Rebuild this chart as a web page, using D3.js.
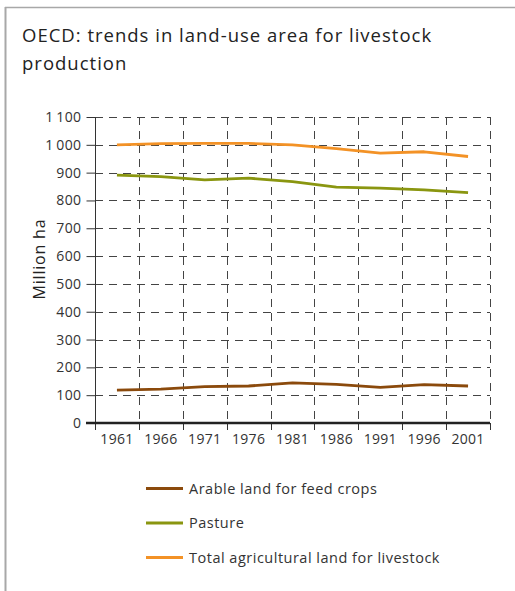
<!DOCTYPE html>
<html>
<head>
<meta charset="utf-8">
<script src="https://cdn.jsdelivr.net/npm/d3@7"></script>
<style>
  body { margin: 0; background: #fff; }
  svg { display: block; font-family: "Open Sans", sans-serif; }
</style>
</head>
<body>
<svg id="chart" width="515" height="591"></svg>
<script>

// years shown on the x axis
var years = ["1961", "1966", "1971", "1976", "1981", "1986", "1991", "1996", "2001"];

// million ha
var arable  = [118, 122, 131, 133, 144, 139, 128, 138, 133];
var pasture = [891, 886, 874, 880, 868, 848, 844, 838, 828];
var total   = [1000, 1004, 1005, 1005, 1000, 986, 970, 975, 958];

var yTicks = [0, 100, 200, 300, 400, 500, 600, 700, 800, 900, 1000, 1100];

var seriesNames  = ["Arable land for feed crops", "Pasture", "Total agricultural land for livestock"];
var seriesColors = ["#8b4a0c", "#8a9610", "#f39226"];
var seriesValues = [arable, pasture, total];

var FONT = "'Open Sans', sans-serif";
var svg = d3.select("#chart");

// outer frame (only left and top edges visible)
svg.append("line").attr("x1", 5.5).attr("x2", 5.5).attr("y1", 7).attr("y2", 591)
  .attr("stroke", "#a8a8a8").attr("stroke-width", 2);
svg.append("line").attr("x1", 5).attr("x2", 515).attr("y1", 7.5).attr("y2", 7.5)
  .attr("stroke", "#a8a8a8").attr("stroke-width", 1.5);

// title
svg.append("text").attr("x", 22).attr("y", 42)
  .attr("font-size", 18.5).attr("fill", "#222").attr("letter-spacing", 1)
  .text("OECD: trends in land-use area for livestock");
svg.append("text").attr("x", 22).attr("y", 70)
  .attr("font-size", 18.5).attr("fill", "#222").attr("letter-spacing", 1)
  .text("production");

var pLeft = 95, pRight = 490, pTop = 117, pBottom = 423;

var xScale = d3.scaleBand()
  .domain(years)
  .range([pLeft, pRight]);

var yScale = d3.scaleLinear()
  .domain([0, 1100])
  .range([pBottom, pTop]);

// horizontal dashed grid
svg.append("g").selectAll(".hgrid")
  .data(yTicks.filter(function(d){ return d > 0; }))
  .enter().append("line")
  .attr("class", "hgrid")
  .attr("x1", pLeft).attr("x2", pRight)
  .attr("y1", function(d){ return Math.round(yScale(d)) + 0.5; })
  .attr("y2", function(d){ return Math.round(yScale(d)) + 0.5; })
  .attr("stroke", "#444").attr("stroke-width", 1)
  .attr("stroke-dasharray", "8,6");

// vertical dashed grid at band edges
var edges = years.map(function(d){ return xScale(d) + xScale.bandwidth(); });
svg.append("g").selectAll(".vgrid")
  .data(edges)
  .enter().append("line")
  .attr("class", "vgrid")
  .attr("x1", function(d){ return Math.round(d) + 0.5; })
  .attr("x2", function(d){ return Math.round(d) + 0.5; })
  .attr("y1", pTop).attr("y2", pBottom)
  .attr("stroke", "#444").attr("stroke-width", 1)
  .attr("stroke-dasharray", "8,6");

// x tick marks below axis
svg.append("g").selectAll(".xtick")
  .data([pLeft].concat(edges))
  .enter().append("line")
  .attr("x1", function(d){ return Math.round(d) + 0.5; })
  .attr("x2", function(d){ return Math.round(d) + 0.5; })
  .attr("y1", pBottom).attr("y2", pBottom + 7)
  .attr("stroke", "#333").attr("stroke-width", 1);

// y axis
var yAxis = d3.axisLeft(yScale)
  .tickValues(yTicks)
  .tickSize(9)
  .tickPadding(5)
  .tickFormat(function(d){ return d3.format(",")(d).replace(",", "\u2009"); });

var yg = svg.append("g")
  .attr("transform", "translate(" + (pLeft + 0.5) + ",0)")
  .call(yAxis);
yg.select(".domain").remove();
yg.selectAll(".tick line").attr("stroke", "#333");
yg.selectAll(".tick text").attr("font-size", 14).attr("fill", "#333")
  .attr("font-family", FONT).attr("letter-spacing", 0.4);

svg.append("line")
  .attr("x1", pLeft + 0.5).attr("x2", pLeft + 0.5)
  .attr("y1", pTop).attr("y2", pBottom + 7)
  .attr("stroke", "#333").attr("stroke-width", 1);

// x axis labels
var xAxis = d3.axisBottom(xScale).tickSize(0).tickPadding(11);
var xg = svg.append("g")
  .attr("transform", "translate(0," + pBottom + ")")
  .call(xAxis);
xg.select(".domain").remove();
xg.selectAll(".tick text").attr("font-size", 14).attr("fill", "#333")
  .attr("font-family", FONT).attr("letter-spacing", 0.3);

// thick baseline
svg.append("line")
  .attr("x1", 86).attr("x2", pRight)
  .attr("y1", pBottom).attr("y2", pBottom)
  .attr("stroke", "#222").attr("stroke-width", 2.5);

// axis title
svg.append("text")
  .attr("transform", "translate(45,259) rotate(-90)")
  .attr("text-anchor", "middle")
  .attr("font-size", 16).attr("fill", "#222").attr("letter-spacing", 0.8)
  .text("Million ha");

// series lines
var line = d3.line()
  .x(function(d, i){ return xScale(years[i]) + xScale.bandwidth() / 2; })
  .y(function(d){ return yScale(d); });

svg.append("g").selectAll(".series")
  .data(seriesValues)
  .enter().append("path")
  .attr("class", "series")
  .attr("d", function(d){ return line(d); })
  .attr("fill", "none")
  .attr("stroke", function(d, i){ return seriesColors[i]; })
  .attr("stroke-width", 2.8)
  .attr("stroke-linejoin", "round");

// legend
var legend = svg.append("g").selectAll(".legend")
  .data(seriesNames)
  .enter().append("g")
  .attr("class", "legend")
  .attr("transform", function(d, i){ return "translate(146," + (488.5 + i * 34.5) + ")"; });

legend.append("line")
  .attr("x1", 0).attr("x2", 37)
  .attr("stroke", function(d, i){ return seriesColors[i]; })
  .attr("stroke-width", 3);

legend.append("text")
  .attr("x", 43).attr("y", 5)
  .attr("font-size", 14.5).attr("fill", "#333").attr("letter-spacing", 0.5)
  .text(function(d){ return d; });

</script>
</body>
</html>
